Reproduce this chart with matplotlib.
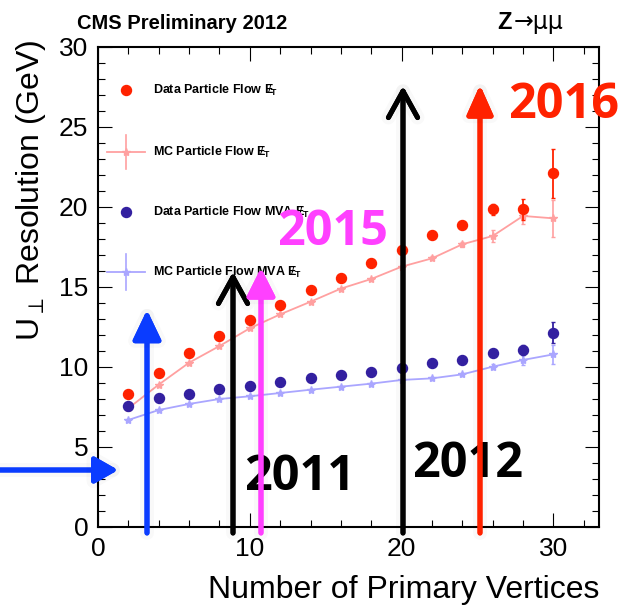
import matplotlib
matplotlib.use("Agg")
import matplotlib.pyplot as plt
from matplotlib.lines import Line2D
from matplotlib.patches import FancyArrowPatch
from matplotlib.ticker import MultipleLocator
import matplotlib.patheffects as pe

plt.rcParams['font.family'] = ['Liberation Sans', 'DejaVu Sans']
plt.rcParams['mathtext.fontset'] = 'custom'
plt.rcParams['mathtext.rm'] = 'Liberation Sans'
plt.rcParams['mathtext.it'] = 'Liberation Sans:italic'
plt.rcParams['mathtext.bf'] = 'Liberation Sans:bold'

# ---------------- data ----------------
npv = [2, 4, 6, 8, 10, 12, 14, 16, 18, 20, 22, 24, 26, 28, 30]
data_pf = [8.3, 9.65, 10.87, 11.94, 12.94, 13.9, 14.81, 15.54, 16.52, 17.3, 18.23, 18.9, 19.85, 19.85, 22.1]
data_pf_err = [0.05, 0.05, 0.05, 0.05, 0.05, 0.05, 0.05, 0.05, 0.08, 0.1, 0.12, 0.15, 0.35, 0.65, 1.55]
mc_pf = [7.42, 8.9, 10.27, 11.31, 12.42, 13.29, 14.08, 14.9, 15.5, 16.27, 16.79, 17.67, 18.19, 19.44, 19.29]
mc_pf_err = [0.05, 0.05, 0.05, 0.05, 0.05, 0.05, 0.05, 0.05, 0.08, 0.1, 0.12, 0.15, 0.35, 0.5, 1.15]
data_mva = [7.56, 8.08, 8.31, 8.6, 8.83, 9.06, 9.29, 9.5, 9.71, 9.96, 10.25, 10.44, 10.9, 11.06, 12.15]
data_mva_err = [0.05, 0.05, 0.05, 0.05, 0.05, 0.05, 0.05, 0.05, 0.05, 0.06, 0.08, 0.1, 0.15, 0.3, 0.65]
mc_mva = [6.69, 7.31, 7.69, 8.0, 8.17, 8.375, 8.58, 8.77, 8.96, 9.19, 9.29, 9.54, 10.02, 10.44, 10.79]
mc_mva_err = [0.05, 0.05, 0.05, 0.05, 0.05, 0.05, 0.05, 0.05, 0.05, 0.06, 0.08, 0.1, 0.15, 0.3, 0.6]

met = r"$\mathbf{E}\!\!\!/_{\mathbf{T}}$"
legend_labels = ["Data Particle Flow " + met,
                 "MC Particle Flow " + met,
                 "Data Particle Flow MVA " + met,
                 "MC Particle Flow MVA " + met]
x_label = "Number of Primary Vertices"
y_label = r"U$_{\perp}$ Resolution (GeV)"
title_left = "CMS Preliminary 2012"
years = ["2011", "2012", "2015", "2016"]

c_red = "#ff2200"
c_pink = "#ffa0a0"
c_navy = "#3320a0"
c_lav = "#aaa6ff"
c_blue = "#0a3cff"
c_mag = "#ff40ff"

# ---------------- figure ----------------
W, H = 625, 605
fig = plt.figure(figsize=(W / 100, H / 100), dpi=100)

def fx(x):
    return x / W

def fy(y):
    return 1 - y / H

ax = fig.add_axes([fx(98), fy(527), (599 - 98) / W, (527 - 47) / H])
ax.set_xlim(0, 33)
ax.set_ylim(0, 30)

ax.errorbar(npv, mc_pf, yerr=mc_pf_err, color=c_pink, marker='*', ms=6, lw=1.3,
            elinewidth=1.2, capsize=1.5, zorder=2)
ax.errorbar(npv, mc_mva, yerr=mc_mva_err, color=c_lav, marker='*', ms=6, lw=1.3,
            elinewidth=1.2, capsize=1.5, zorder=2)
ax.errorbar(npv, data_pf, yerr=data_pf_err, fmt='o', color=c_red, ms=7.2,
            elinewidth=1.3, capsize=1.5, zorder=5)
ax.errorbar(npv, data_mva, yerr=data_mva_err, fmt='o', color=c_navy, ms=7.2,
            elinewidth=1.3, capsize=1.5, zorder=5)

ax.xaxis.set_major_locator(MultipleLocator(10))
ax.xaxis.set_minor_locator(MultipleLocator(2))
ax.yaxis.set_major_locator(MultipleLocator(5))
ax.yaxis.set_minor_locator(MultipleLocator(1))
ax.tick_params(which='both', direction='in', top=True, right=True, width=0.8, colors='black')
ax.tick_params(which='major', length=10, labelsize=19, pad=7)
ax.tick_params(which='minor', length=5)
for s in ax.spines.values():
    s.set_linewidth(1.5)

ax.set_xlabel(x_label, fontsize=23, loc='right')
ax.xaxis.set_label_coords(1.0, -0.1)
ax.set_ylabel(y_label, fontsize=23, loc='top')
ax.yaxis.set_label_coords(-0.1, 1.015)

# titles
fig.text(fx(77), fy(29), title_left, fontsize=14.5, fontweight='bold', va='baseline', ha='left')
fig.text(fx(497), fy(29), "Z", fontsize=17, fontweight='bold', va='baseline', ha='left')
fig.text(fx(514), fy(29), "\u2192\u03bc\u03bc", fontsize=17, family=['DejaVu Sans'], va='baseline', ha='left')

# legend (manual, ROOT style)
leg_y = [90, 152, 212, 272]
fig.add_artist(Line2D([fx(126)], [fy(leg_y[0])], transform=fig.transFigure, marker='o',
                      ms=7.2, color=c_red, ls='none'))
fig.add_artist(Line2D([fx(107), fx(145)], [fy(leg_y[1])] * 2, transform=fig.transFigure,
                      color=c_pink, lw=1.3))
fig.add_artist(Line2D([fx(126)] * 2, [fy(leg_y[1] - 17), fy(leg_y[1] + 17)], transform=fig.transFigure,
                      color=c_pink, lw=1.2))
fig.add_artist(Line2D([fx(126)], [fy(leg_y[1])], transform=fig.transFigure, marker='*',
                      ms=6, color=c_pink, ls='none'))
fig.add_artist(Line2D([fx(126)], [fy(leg_y[2])], transform=fig.transFigure, marker='o',
                      ms=7.2, color=c_navy, ls='none'))
fig.add_artist(Line2D([fx(107), fx(145)], [fy(leg_y[3])] * 2, transform=fig.transFigure,
                      color=c_lav, lw=1.3))
fig.add_artist(Line2D([fx(126)] * 2, [fy(leg_y[3] - 18), fy(leg_y[3] + 18)], transform=fig.transFigure,
                      color=c_lav, lw=1.2))
fig.add_artist(Line2D([fx(126)], [fy(leg_y[3])], transform=fig.transFigure, marker='*',
                      ms=6, color=c_lav, ls='none'))
for lab, yy in zip(legend_labels, leg_y):
    fig.text(fx(153), fy(yy), lab, fontsize=9, fontweight='bold', va='center', ha='left')

# overlay arrows
glow = [pe.withStroke(linewidth=10, foreground=(0, 0, 0, 0.025))]

def arrow(x0, y0, x1, y1, color, style):
    p = FancyArrowPatch((fx(x0), fy(y0)), (fx(x1), fy(y1)), transform=fig.transFigure,
                        arrowstyle=style, mutation_scale=1, lw=3.6, color=color,
                        shrinkA=0, shrinkB=0, capstyle='round', joinstyle='round',
                        zorder=4)
    p.set_path_effects(glow + [pe.Normal()])
    fig.add_artist(p)

arrow(0, 470, 118, 470, c_blue, '-|>,head_length=14,head_width=8')
arrow(147, 533, 147, 310, c_blue, '-|>,head_length=18,head_width=8.6')
arrow(233, 533, 233, 272, 'black', '->,head_length=19,head_width=10.5')
arrow(261, 533, 261, 268, c_mag, '-|>,head_length=17,head_width=8.6')
arrow(403, 533, 403, 86, 'black', '->,head_length=19,head_width=10.5')
arrow(480, 533, 480, 85, c_red, '-|>,head_length=18,head_width=8')

# year labels
year_fmt = dict(fontsize=35, fontweight='bold', family=['Open Sans', 'DejaVu Sans'],
                ha='center', va='baseline')
fig.text(fx(300), fy(490), years[0], color='black', **year_fmt)
fig.text(fx(468), fy(477), years[1], color='black', **year_fmt)
fig.text(fx(333), fy(245), years[2], color=c_mag, **year_fmt)
fig.text(fx(564), fy(118), years[3], color=c_red, **year_fmt)

fig.savefig("out.png", dpi=100)
